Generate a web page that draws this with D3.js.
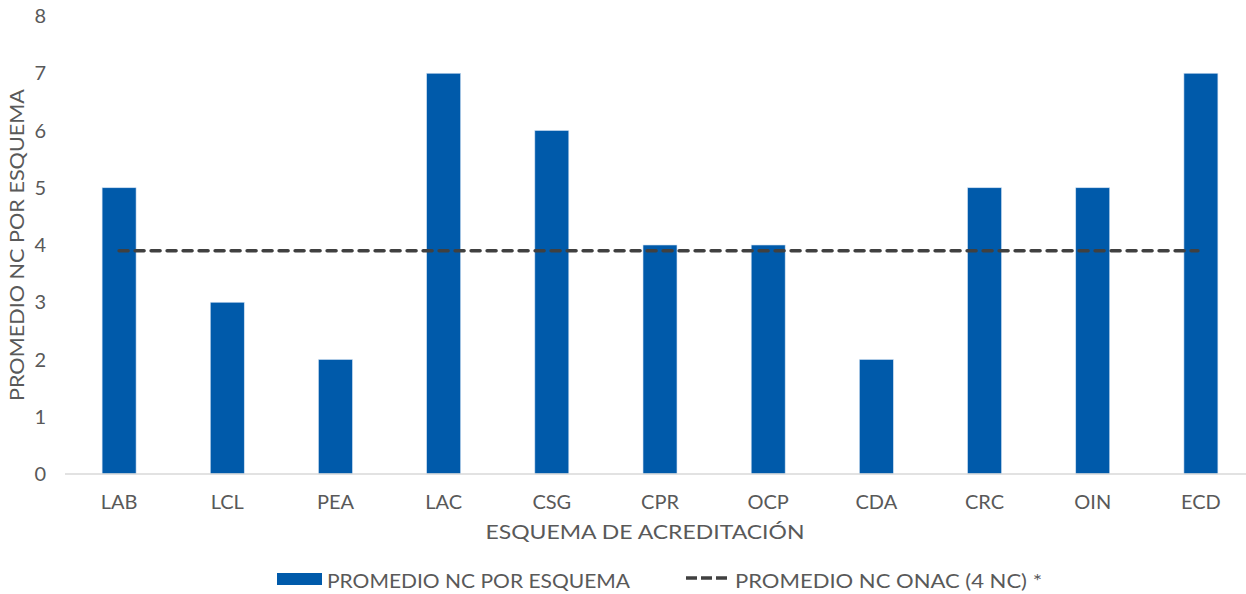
<!DOCTYPE html>
<meta charset="utf-8">
<title>Promedio NC por esquema</title>
<style>
  body { margin: 0; background: #fff; }
  svg { display: block; overflow: hidden; }
  text { font-family: "Lato", "Open Sans", sans-serif; fill: #595959; }
  .tick-y text, .tick-x text { font-size: 20px; }
  .title { font-size: 20px; }
  .legend text { font-size: 20px; }
</style>
<svg width="1246" height="594"></svg>
<script src="https://cdn.jsdelivr.net/npm/d3@7"></script>
<script>
  // data
  var categories = ["LAB", "LCL", "PEA", "LAC", "CSG", "CPR", "OCP", "CDA", "CRC", "OIN", "ECD"];
  var values = [5, 3, 2, 7, 6, 4, 4, 2, 5, 5, 7];
  var onacAverage = 3.9;
  var yTicks = [0, 1, 2, 3, 4, 5, 6, 7, 8];

  var svg = d3.select("svg");

  var x = d3.scaleBand()
    .domain(categories)
    .range([65, 1255])
    .paddingInner(0.686)
    .paddingOuter(0.343);

  var y = d3.scaleLinear()
    .domain([0, 8])
    .range([474, 16]);

  // y tick labels
  svg.append("g")
    .attr("class", "tick-y")
    .selectAll("text")
    .data(yTicks)
    .enter().append("text")
    .attr("x", 46)
    .attr("y", function(d) { return y(d); })
    .attr("dy", "0.35em")
    .attr("text-anchor", "end")
    .text(function(d) { return d; });

  // bars
  svg.append("g")
    .selectAll("rect")
    .data(values)
    .enter().append("rect")
    .attr("x", function(d, i) { return x(categories[i]); })
    .attr("y", function(d) { return y(d); })
    .attr("width", x.bandwidth())
    .attr("height", function(d) { return y(0) - y(d); })
    .attr("fill", "#005AAA")
    .attr("stroke", "#cfe0f2")
    .attr("stroke-width", 0.6);

  // baseline
  svg.append("line")
    .attr("x1", 65)
    .attr("x2", 1255)
    .attr("y1", y(0))
    .attr("y2", y(0))
    .attr("stroke", "#d9d9d9")
    .attr("stroke-width", 1.5);

  // average line
  var half = x.bandwidth() / 2;
  svg.append("line")
    .attr("x1", x(categories[0]) + half)
    .attr("x2", x(categories[categories.length - 1]) + half - 3)
    .attr("y1", y(onacAverage))
    .attr("y2", y(onacAverage))
    .attr("stroke", "#404040")
    .attr("stroke-width", 3.5)
    .attr("stroke-linecap", "round")
    .attr("stroke-dasharray", "9,7");

  // x tick labels
  svg.append("g")
    .attr("class", "tick-x")
    .selectAll("text")
    .data(categories)
    .enter().append("text")
    .attr("x", function(d) { return x(d) + half; })
    .attr("y", 509)
    .attr("text-anchor", "middle")
    .text(function(d) { return d; });

  // axis titles
  svg.append("text")
    .attr("class", "title")
    .attr("x", 645)
    .attr("y", 539)
    .attr("text-anchor", "middle")
    .attr("textLength", 319)
    .attr("lengthAdjust", "spacingAndGlyphs")
    .text("ESQUEMA DE ACREDITACIÓN");

  svg.append("text")
    .attr("class", "title")
    .attr("transform", "translate(24,245) rotate(-90)")
    .attr("text-anchor", "middle")
    .attr("textLength", 312)
    .attr("lengthAdjust", "spacingAndGlyphs")
    .text("PROMEDIO NC POR ESQUEMA");

  // legend
  var legend = svg.append("g").attr("class", "legend");
  legend.append("rect")
    .attr("x", 277)
    .attr("y", 573)
    .attr("width", 45)
    .attr("height", 12)
    .attr("fill", "#005AAA");
  legend.append("text")
    .attr("x", 327)
    .attr("y", 588)
    .attr("textLength", 303)
    .attr("lengthAdjust", "spacingAndGlyphs")
    .text("PROMEDIO NC POR ESQUEMA");
  legend.append("line")
    .attr("x1", 686)
    .attr("x2", 727)
    .attr("y1", 578)
    .attr("y2", 578)
    .attr("stroke", "#404040")
    .attr("stroke-width", 3.5)
    .attr("stroke-dasharray", "11,4");
  legend.append("text")
    .attr("x", 735)
    .attr("y", 588)
    .attr("textLength", 307)
    .attr("lengthAdjust", "spacingAndGlyphs")
    .text("PROMEDIO NC ONAC (4 NC) *");
</script>
